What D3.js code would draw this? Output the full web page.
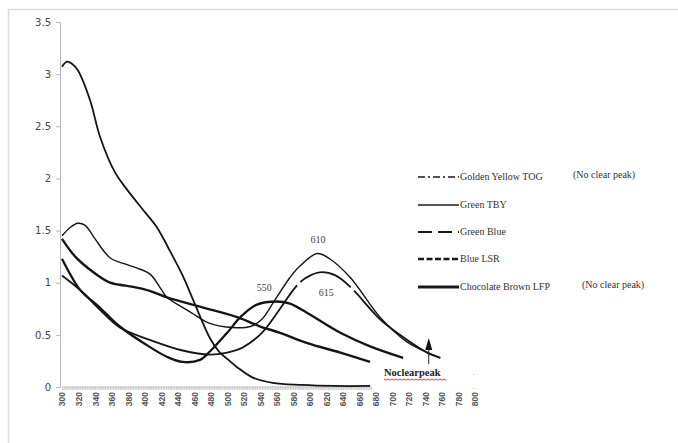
<!DOCTYPE html>
<html>
<head>
<meta charset="utf-8">
<script src="https://cdn.jsdelivr.net/npm/d3@7"></script>
<style>
  html, body { margin: 0; padding: 0; background: #fff; }
  svg { display: block; }
</style>
</head>
<body>
<svg id="chart" width="678" height="443"></svg>
<script>
// ---- data (wavelength nm, absorbance) ----
const xTickLabels = d3.range(300, 801, 20);
const yTickLabels = [0, 0.5, 1, 1.5, 2, 2.5, 3, 3.5];

const goldenYellowTOG = [[300,3.07],[306,3.12],[312,3.10],[319,3.04],[334,2.75],[346,2.40],[364,2.06],[379,1.89],[398,1.70],[415,1.53],[431,1.30],[446,1.07],[459,0.83],[479,0.47],[490,0.34],[500,0.27],[512,0.19],[531,0.09],[555,0.04],[590,0.02],[630,0.01],[673,0.01]];
const greenTBY = [[300,1.45],[310,1.53],[319,1.57],[328,1.55],[340,1.42],[358,1.24],[376,1.18],[391,1.14],[407,1.08],[419,0.95],[427,0.86],[451,0.74],[459,0.70],[479,0.61],[507,0.57],[528,0.58],[542,0.65],[555,0.80],[576,1.05],[588,1.16],[609,1.28],[624,1.23],[649,1.05],[685,0.67],[718,0.43],[758,0.28]];
const greenBlue = [[300,1.07],[322,0.93],[346,0.74],[370,0.57],[407,0.45],[446,0.35],[479,0.31],[500,0.33],[519,0.38],[542,0.52],[564,0.75],[582,0.95],[594,1.04],[612,1.10],[631,1.07],[649,0.96],[685,0.65],[718,0.45],[742,0.33],[758,0.28]];
const blueLSR = [[300,1.23],[310,1.08],[322,0.93],[346,0.76],[370,0.58],[407,0.38],[427,0.29],[446,0.24],[467,0.26],[479,0.34],[500,0.52],[516,0.67],[536,0.79],[560,0.82],[576,0.80],[597,0.71],[637,0.52],[673,0.39],[713,0.28]];
const chocolateBrownLFP = [[300,1.42],[316,1.25],[338,1.10],[358,1.00],[370,0.98],[386,0.96],[407,0.92],[427,0.86],[467,0.77],[512,0.67],[540,0.58],[564,0.52],[597,0.42],[637,0.33],[673,0.24]];

const seriesNames = ["Golden Yellow TOG", "Green TBY", "Green Blue", "Blue LSR", "Chocolate Brown LFP"];
const seriesNotes = ["(No clear peak)", "", "", "", "(No clear peak)"];
const peakLabels = [["610", 610, 1.38], ["550", 545, 0.92], ["615", 620, 0.87]];
const greenBlueGaps = [584, 649]; // wavelengths where the dashed curve shows gaps

// ---- drawing ----
const svg = d3.select("#chart");
const x = d3.scaleLinear().domain([300, 800]).range([62, 475]);
const y = d3.scaleLinear().domain([0, 3.5]).range([387, 22]);

// outer frame (top and left only)
svg.append("line").attr("x1", 8).attr("x2", 678).attr("y1", 9.5).attr("y2", 9.5)
  .attr("stroke", "#dcdcdc").attr("stroke-width", 1.5);
svg.append("line").attr("x1", 8.5).attr("x2", 8.5).attr("y1", 9).attr("y2", 443)
  .attr("stroke", "#dcdcdc").attr("stroke-width", 1.5);

// y axis
const yAxis = d3.axisLeft(y).tickValues(yTickLabels).tickSize(4).tickPadding(5)
  .tickFormat(d3.format("~g"));
const gy = svg.append("g").attr("transform", "translate(60,0)").call(yAxis);
gy.select(".domain").attr("stroke", "#b8b8b8");
gy.selectAll(".tick line").attr("stroke", "#b8b8b8");
gy.selectAll("text").attr("font-family", "DejaVu Sans, Verdana, sans-serif")
  .attr("font-size", 10).attr("fill", "#444");

// x axis: dense minor ticks along the data range
const xMinor = d3.axisBottom(x).tickValues(d3.range(300, 675, 2)).tickSize(3).tickFormat("");
const gxm = svg.append("g").attr("transform", "translate(0,387)").call(xMinor);
gxm.select(".domain").attr("stroke", "#b8b8b8").attr("d", `M${x(300)},0H${x(674)}`);
gxm.selectAll(".tick line").attr("stroke", "#c8c8c8");

const xAxis = d3.axisBottom(x).tickValues(xTickLabels).tickSize(0).tickPadding(0);
const gx = svg.append("g").attr("transform", "translate(0,387)").call(xAxis);
gx.select(".domain").remove();
gx.selectAll("text")
  .attr("font-family", "Liberation Sans, Arial, sans-serif")
  .attr("font-size", 8.5).attr("font-weight", "bold").attr("fill", "#555")
  .attr("text-anchor", "end")
  .attr("dy", "0.35em")
  .attr("transform", "translate(0,5) rotate(-90)");

// stray dots at right of axis
svg.append("text").attr("x", x(797)).attr("y", 375).text(".")
  .attr("font-size", 9).attr("fill", "#999");
svg.append("text").attr("x", x(797)).attr("y", 389).text(".")
  .attr("font-size", 9).attr("fill", "#999");

// curves
const line = d3.line().x(d => x(d[0])).y(d => y(d[1])).curve(d3.curveCatmullRom.alpha(0.5));
const plotSeries = [
  { data: goldenYellowTOG, w: 1.8, gaps: null },
  { data: greenTBY, w: 1.4, gaps: null },
  { data: greenBlue, w: 1.8, gaps: greenBlueGaps },
  { data: blueLSR, w: 2.3, gaps: null },
  { data: chocolateBrownLFP, w: 2.4, gaps: null }
];
plotSeries.forEach(s => {
  const p = svg.append("path").datum(s.data).attr("d", line)
    .attr("fill", "none").attr("stroke", "#151515")
    .attr("stroke-width", s.w)
    .attr("stroke-linejoin", "round");
  if (s.gaps) {
    const node = p.node();
    const total = node.getTotalLength();
    const lens = s.gaps.map(g => {
      const gx0 = x(g);
      for (let l = 0; l <= total; l += 0.5) {
        if (node.getPointAtLength(l).x >= gx0) return l;
      }
      return total;
    });
    const gap = 5;
    const parts = [];
    let prev = 0;
    lens.forEach(l => { parts.push(l - prev, gap); prev = l + gap; });
    parts.push(total);
    p.attr("stroke-dasharray", parts.join(","));
  }
});

// peak labels
peakLabels.forEach(p => {
  svg.append("text").attr("x", x(p[1])).attr("y", y(p[2]))
    .attr("text-anchor", "middle")
    .attr("font-family", "Liberation Serif, Times New Roman, serif")
    .attr("font-size", 10).attr("fill", "#4a4040").text(p[0]);
});

// "No clear peak" marker with arrow
const arrowX = x(744);
svg.append("line").attr("x1", arrowX).attr("x2", arrowX).attr("y1", 364).attr("y2", 348)
  .attr("stroke", "#222").attr("stroke-width", 1);
svg.append("path")
  .attr("d", `M${arrowX},338 L${arrowX - 3.5},350 L${arrowX + 3.5},350 Z`)
  .attr("fill", "#111");
svg.append("text").attr("x", 384).attr("y", 376)
  .attr("font-family", "Liberation Serif, Times New Roman, serif")
  .attr("font-size", 10.5).attr("font-weight", "bold").attr("fill", "#222")
  .text("Noclearpeak");
const squig = d3.range(384, 448, 2).map((px, i) => [px, 379 + (i % 2 ? 1.2 : 0)]);
svg.append("path").attr("d", d3.line()(squig))
  .attr("fill", "none").attr("stroke", "#e03a3a").attr("stroke-width", 1);

// legend
const legendY = [177, 205, 232, 259, 287];
const legendStyle = [
  { w: 1.6, dash: "7,3,2,3" },
  { w: 1.3, dash: null },
  { w: 1.8, dash: "14,6" },
  { w: 2.6, dash: "6,2.5" },
  { w: 3, dash: null }
];
seriesNames.forEach((name, i) => {
  const g = svg.append("g");
  g.append("line").attr("x1", 418).attr("x2", 459)
    .attr("y1", legendY[i]).attr("y2", legendY[i])
    .attr("stroke", "#1a1a1a").attr("stroke-width", legendStyle[i].w)
    .attr("stroke-dasharray", legendStyle[i].dash);
  g.append("text").attr("x", 460).attr("y", legendY[i]).attr("dy", "0.33em")
    .attr("font-family", "Liberation Serif, Times New Roman, serif")
    .attr("font-size", 10).attr("fill", "#333")
    .text(name);
  if (seriesNotes[i]) {
    g.append("text").attr("x", i === 0 ? 573 : 582).attr("y", legendY[i] - 2).attr("dy", "0.33em")
      .attr("font-family", "Liberation Serif, Times New Roman, serif")
      .attr("font-size", 10).attr("fill", "#333")
      .text(seriesNotes[i]);
  }
});
</script>
</body>
</html>
